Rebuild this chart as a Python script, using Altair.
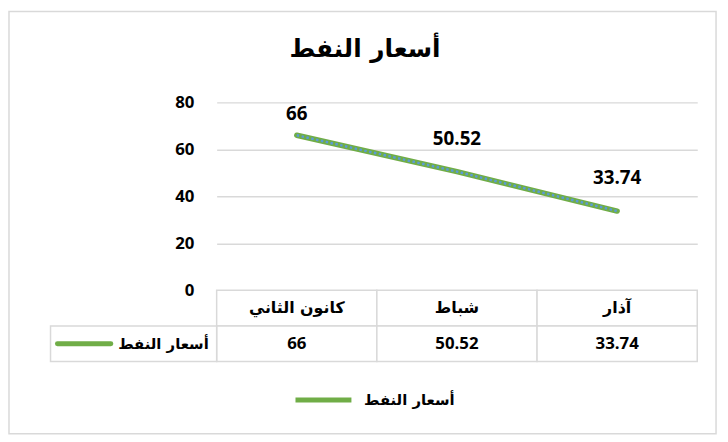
import altair as alt
import pandas as pd

months = ["كانون الثاني", "شباط", "آذار"]
prices = [66, 50.52, 33.74]
series_name = "أسعار النفط"
chart_title = "أسعار النفط"
y_ticks = [0, 20, 40, 60, 80]

GREEN = "#70AD47"
BLUE = "#5B9BD5"
GRID = "#d9d9d9"
NUM_FONT = "Open Sans"
AR_FONT = "DejaVu Sans"

df = pd.DataFrame({
    "month": months,
    "price": prices,
    "label": [f"{v:g}" for v in prices],
    "series": [series_name] * len(months),
})
decor = pd.DataFrame({"k": [0]})

ysc = alt.Scale(domain=[-30.3, 80], nice=False, zero=False)
yax = alt.Axis(values=y_ticks, title=None, grid=True, gridColor=GRID, gridWidth=1.5,
               domain=False, ticks=False, labelFont=NUM_FONT, labelFontSize=17,
               labelFontWeight="bold", labelColor="#000000", labelPadding=23)
xsc = alt.Scale(domain=months, paddingInner=0, paddingOuter=0)

def X(**kw):
    return alt.X("month:N", scale=xsc, axis=None, sort=months, **kw)

def YD(v):
    return alt.YDatum(v, type="quantitative", scale=ysc, axis=yax)

base = alt.Chart(df)

line_green = base.mark_line(strokeWidth=5.5, strokeCap="round").encode(
    x=X(bandPosition=0.5),
    y=alt.Y("price:Q", scale=ysc, axis=yax),
    color=alt.Color("series:N", scale=alt.Scale(range=[GREEN]),
                    legend=alt.Legend(title=None, orient="none", legendX=77, legendY=270,
                                      symbolType="stroke", symbolStrokeWidth=5,
                                      symbolSize=3200, labelFont=AR_FONT, labelFontSize=15,
                                      labelFontWeight="bold", labelColor="#000000",
                                      labelOffset=10)),
)
line_blue = base.mark_line(strokeWidth=2.5, color=BLUE, strokeDash=[2.5, 2.5]).encode(
    x=X(bandPosition=0.5),
    y=alt.Y("price:Q", scale=ysc, axis=yax),
)
lab_first = base.transform_filter(alt.datum.month == months[0]).mark_text(
    dy=-21, font=NUM_FONT, fontSize=19, fontWeight="bold", color="#000000").encode(
    x=X(bandPosition=0.5), y=alt.Y("price:Q", scale=ysc, axis=yax), text="label:N")
lab_rest = base.transform_filter(alt.datum.month != months[0]).mark_text(
    dy=-33, font=NUM_FONT, fontSize=19, fontWeight="bold", color="#000000").encode(
    x=X(bandPosition=0.5), y=alt.Y("price:Q", scale=ysc, axis=yax), text="label:N")

head_cells = base.mark_rect(fill="white", stroke=GRID, strokeWidth=1.5).encode(
    x=X(), y=YD(0), y2=alt.Y2Datum(-15.2))
val_cells = base.mark_rect(fill="white", stroke=GRID, strokeWidth=1.5).encode(
    x=X(), y=YD(-15.2), y2=alt.Y2Datum(-30.3))
head_text = base.mark_text(font=AR_FONT, fontSize=16, fontWeight="bold", color="#000000").encode(
    x=X(bandPosition=0.5), y=YD(-7.6), text="month:N")
val_text = base.mark_text(font=NUM_FONT, fontSize=17, fontWeight="bold", color="#000000").encode(
    x=X(bandPosition=0.5), y=YD(-22.75), text="label:N")

dchart = alt.Chart(decor)
leg_cell = dchart.mark_rect(fill="white", stroke=GRID, strokeWidth=1.5).encode(
    x=alt.value(-168), x2=alt.value(0), y=YD(-15.2), y2=alt.Y2Datum(-30.3))
leg_line = dchart.mark_rule(color=GREEN, strokeWidth=5, strokeCap="round").encode(
    x=alt.value(-161), x2=alt.value(-107), y=YD(-22.75))
leg_text = dchart.mark_text(font=AR_FONT, fontSize=15, fontWeight="bold", color="#000000",
                            align="right").encode(
    x=alt.value(-8), y=YD(-22.75), text=alt.value(series_name))
border = dchart.mark_rect(fill=None, stroke=GRID, strokeWidth=1.5).encode(
    x=alt.value(-210), x2=alt.value(505), y=alt.value(-92), y2=alt.value(335))
title = dchart.mark_text(font=AR_FONT, fontSize=25, fontWeight="bold", color="#000000",
                         baseline="middle").encode(
    x=alt.value(150), y=alt.value(-54), text=alt.value(chart_title))

chart = alt.layer(
    border, head_cells, val_cells, leg_cell, line_green, line_blue,
    lab_first, lab_rest, head_text, val_text, leg_line, leg_text, title,
).properties(
    width=486, height=262,
    autosize=alt.AutoSizeParams(type="none"),
    padding={"left": 211, "top": 93, "right": 23, "bottom": 79},
).configure_view(stroke=None)

chart.save("out.html", embed_options={"renderer": "svg", "actions": False})
